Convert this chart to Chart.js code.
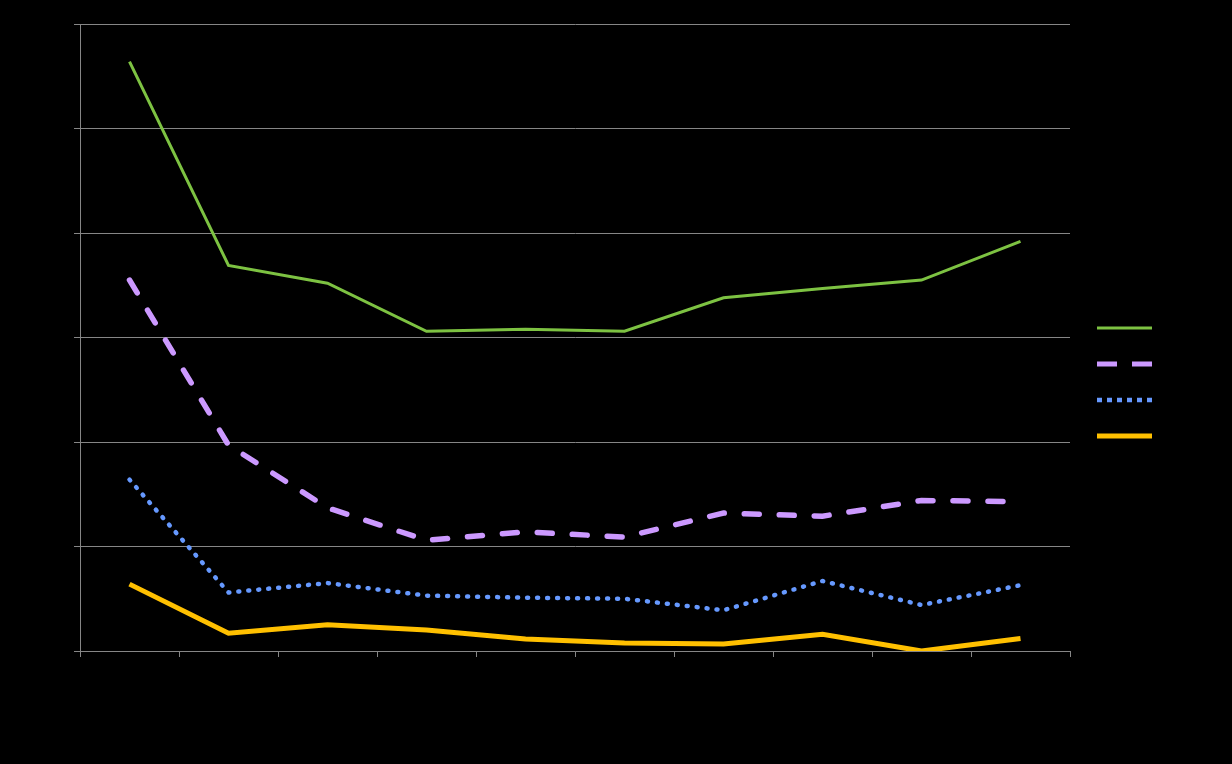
<!DOCTYPE html>
<html><head><meta charset="utf-8">
<script src="https://cdn.jsdelivr.net/npm/chart.js@4/dist/chart.umd.min.js"></script>
<style>html,body{margin:0;padding:0;background:#000;}#wrap{width:1232px;height:764px;}</style>
</head><body><div id="wrap"><canvas id="c" width="1232" height="764"></canvas></div>
<script>
const categories = ["1","2","3","4","5","6","7","8","9","10"];
const seriesNames = ["Series 1","Series 2","Series 3","Series 4"];
const series1 = [56.4,36.9,35.2,30.6,30.8,30.6,33.8,34.7,35.5,39.2];
const series2 = [35.5,19.7,13.7,10.6,11.4,10.9,13.2,12.9,14.4,14.3];
const series3 = [16.4,5.6,6.5,5.3,5.1,5.0,3.9,6.7,4.4,6.3];
const series4 = [6.4,1.7,2.5,2.0,1.15,0.77,0.67,1.6,0.0,1.2];
const yTicks = [0,10,20,30,40,50,60];

const legendFont = 9, legendPad = 27, legendLine = 55, legendBoxW = 162;
const legendDashes = [[], [20, 15], [5, 5], []];
const legendWidths = [3, 5, 4.5, 5];

const legendFix = {
  id: 'legendFix',
  beforeLayout(chart) {
    const lg = chart.legend;
    if (lg && !lg._fixed) {
      const orig = lg.fit.bind(lg);
      lg.fit = function () { orig(); this.width = legendBoxW; };
      lg._fixed = true;
    }
  },
  afterLayout(chart) {
    const lg = chart.legend;
    if (lg) { lg.top = 0; lg.bottom = chart.height; lg.height = chart.height; }
  }
};

const gridCol = '#868686';
new Chart(document.getElementById('c'), {
  type: 'line',
  data: {
    labels: categories,
    datasets: [
      {label: seriesNames[0], data: series1, borderColor: '#7DC242', backgroundColor: '#7DC242', borderWidth: 3, pointRadius: 0, tension: 0},
      {label: seriesNames[1], data: series2, borderColor: '#CC99FF', backgroundColor: '#CC99FF', borderWidth: 5.5, borderDash: [15, 20], borderCapStyle: 'round', pointRadius: 0, tension: 0},
      {label: seriesNames[2], data: series3, borderColor: '#6699FF', backgroundColor: '#6699FF', borderWidth: 4.5, borderDash: [1, 9], borderCapStyle: 'round', pointRadius: 0, tension: 0},
      {label: seriesNames[3], data: series4, borderColor: '#FFC000', backgroundColor: '#FFC000', borderWidth: 5, pointRadius: 0, tension: 0}
    ]
  },
  plugins: [legendFix],
  options: {
    responsive: false,
    animation: false,
    layout: {padding: {top: 24, right: 0, bottom: 0, left: 0}},
    plugins: {
      legend: {
        position: 'right',
        labels: {
          usePointStyle: true, pointStyle: 'line', pointStyleWidth: legendLine, padding: legendPad,
          color: '#000', font: {size: legendFont, family: 'Liberation Sans'},
          generateLabels: (chart) => chart.data.datasets.map((ds, i) => ({
            text: ds.label, fillStyle: ds.borderColor, strokeStyle: ds.borderColor,
            lineWidth: legendWidths[i], lineDash: legendDashes[i], lineCap: 'butt',
            pointStyle: 'line', hidden: false, datasetIndex: i, fontColor: '#000'
          }))
        }
      },
      tooltip: {enabled: false}
    },
    scales: {
      x: {
        offset: true,
        grid: {display: true, drawOnChartArea: false, drawTicks: true, tickLength: 6, color: gridCol, offset: true},
        border: {color: gridCol, width: 1},
        ticks: {color: '#000', font: {size: 12, family: 'Liberation Sans'}, maxRotation: 0},
        afterFit: (s) => { s.height = 113; }
      },
      y: {
        min: 0, max: 60,
        afterBuildTicks: (s) => { s.ticks = yTicks.map(v => ({value: v})); },
        grid: {color: gridCol, tickLength: 6},
        border: {color: gridCol, width: 1},
        ticks: {color: '#000', font: {size: 12, family: 'Liberation Sans'}},
        afterFit: (s) => { s.width = 80; }
      }
    }
  }
});
</script></body></html>
